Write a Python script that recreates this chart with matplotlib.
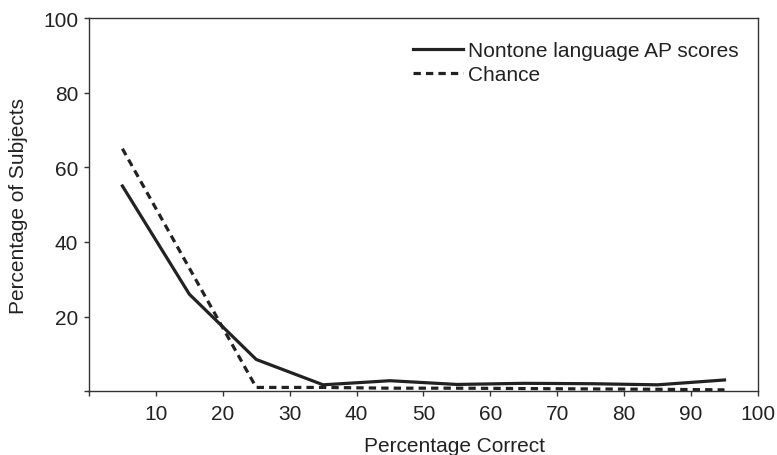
import matplotlib
matplotlib.use('Agg')
import matplotlib.pyplot as plt

plt.rcParams['font.family'] = ['Liberation Sans', 'DejaVu Sans']

pct_correct = [5, 15, 25, 35, 45, 55, 65, 75, 85, 95]
nontone = [55, 26, 8.5, 1.7, 2.8, 1.8, 2.1, 2.0, 1.7, 3.0]
chance = [65, 33, 1.0, 1.0, 0.8, 0.8, 0.7, 0.6, 0.5, 0.35]

ink = '#222222'
fs = 15

fig = plt.figure(figsize=(7.77, 4.56), dpi=100)
ax = fig.add_axes([0.1145, 0.140, 0.861, 0.818])

ax.plot(pct_correct, nontone, color=ink, linewidth=2.3, label='Nontone language AP scores')
ax.plot(pct_correct, chance, color=ink, linewidth=2.3, linestyle=(0, (2.3, 1.6)), label='Chance')

ax.set_xlim(0, 100)
ax.set_ylim(0, 100)
ax.set_xticks(range(0, 101, 10))
ax.set_xticklabels([''] + [str(v) for v in range(10, 101, 10)])
ax.set_yticks(range(0, 101, 20))
ax.set_yticklabels([''] + [str(v) for v in range(20, 101, 20)])

for s in ax.spines.values():
    s.set_color('#333333')
    s.set_linewidth(1.0)
ax.tick_params(direction='out', length=3.3, width=1.0, color='#333333', labelsize=fs, labelcolor=ink)
ax.tick_params(axis='x', pad=6)
ax.tick_params(axis='y', pad=4.5)

# x label sits a little right of the axes centre
ax.set_xlabel('Percentage Correct', fontsize=fs, color=ink)
ax.xaxis.set_label_coords(0.546, -0.161)
ax.xaxis.label.set_verticalalignment('baseline')
ax.set_ylabel('Percentage of Subjects', fontsize=fs, color=ink)
ax.yaxis.set_label_coords(-0.091, 0.5)

ax.legend(loc='upper left', bbox_to_anchor=(0.484, 0.938), frameon=False, fontsize=fs,
          handlelength=2.4, handletextpad=0.24, labelspacing=0.25, borderpad=0,
          borderaxespad=0, labelcolor=ink)

fig.savefig('out.png', dpi=100)
